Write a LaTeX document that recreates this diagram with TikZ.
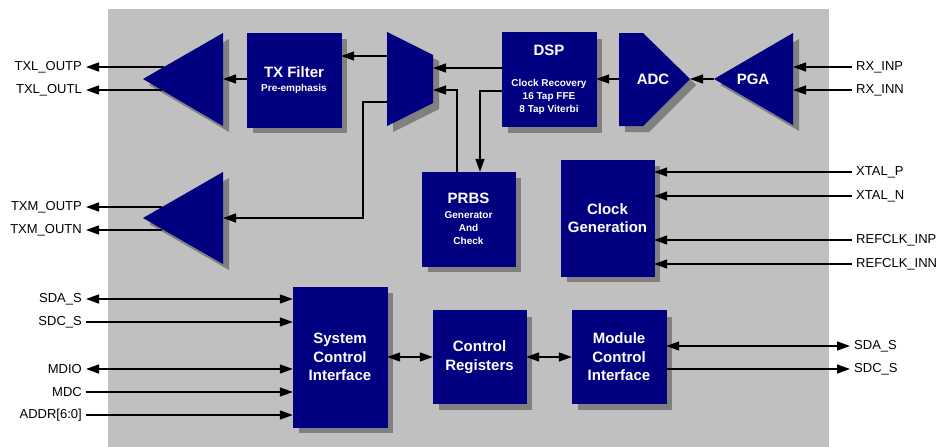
\documentclass[tikz,border=0pt]{standalone}
\usepackage{fontspec}
\setmainfont{Liberation Sans}
\usepackage{tikz}
\usetikzlibrary{arrows.meta, shadows}

\definecolor{blkblue}{HTML}{000080}
\definecolor{shadegray}{HTML}{808080}
\definecolor{diegray}{HTML}{C0C0C0}

\newcommand{\bigtxt}{\fontsize{15}{18.5}\selectfont\bfseries}
\newcommand{\smalltxt}{\fontsize{10}{12.5}\selectfont\bfseries}

\begin{document}
\begin{tikzpicture}[x=1pt, y=-1pt,
    blk/.style={fill=blkblue, draw=blkblue, text=white, align=center, inner sep=0pt,
      font=\bigtxt,
      drop shadow={shadow xshift=6pt, shadow yshift=-6pt, fill=shadegray, opacity=1}},
    shp/.style={fill=blkblue,
      drop shadow={shadow xshift=6pt, shadow yshift=-6pt, fill=shadegray, opacity=1}},
    wire/.style={line width=1.4pt},
    arr/.style={wire, -{Triangle[length=13pt, width=9pt]}},
    biarr/.style={wire, {Triangle[length=13pt, width=9pt]}-{Triangle[length=13pt, width=9pt]}},
    pin/.style={font=\fontsize{13}{15}\selectfont, inner sep=4pt}]
    \useasboundingbox (0,0) rectangle (937,447);

    % Chip area
    \fill[diegray] (108,9) rectangle (829,447);

    % Rectangular blocks
    \node[blk, minimum width=94pt, minimum height=94pt] (txf) at (294,80)
        {TX Filter\\[-4pt]\smalltxt Pre-emphasis};
    \node[blk, minimum width=94pt, minimum height=94pt] (dsp) at (549,79.5)
        {DSP\\[12.5pt]\smalltxt Clock Recovery\\[-5.5pt]\smalltxt 16 Tap FFE\\[-5.5pt]\smalltxt 8 Tap Viterbi};
    \node[blk, minimum width=93pt, minimum height=94pt] (prbs) at (468.5,219)
        {PRBS\\[-4pt]\smalltxt Generator\\[-5.5pt]\smalltxt And\\[-5.5pt]\smalltxt Check};
    \node[blk, minimum width=93pt, minimum height=116pt] (clk) at (607.5,218)
        {Clock\\Generation};
    \node[blk, minimum width=94pt, minimum height=140pt] (sci) at (340,357)
        {System\\Control\\Interface};
    \node[blk, minimum width=93pt, minimum height=93pt] (creg) at (479.5,357)
        {Control\\Registers};
    \node[blk, minimum width=94pt, minimum height=93pt] (mci) at (619,357)
        {Module\\Control\\Interface};

    % Line drivers, mux, ADC and PGA
    \fill[shp] (143,79) -- (223,33) -- (223,126) -- cycle;
    \coordinate (txl-in) at (223,79);
    \coordinate (txl-p) at (164,67);
    \coordinate (txl-n) at (162,90);

    \fill[shp] (143,218) -- (223,172) -- (223,264) -- cycle;
    \coordinate (txm-in) at (223,218);
    \coordinate (txm-p) at (162,207);
    \coordinate (txm-n) at (162,230);

    \fill[shp] (387,32) -- (433,55) -- (433,103) -- (387,126) -- cycle;
    \coordinate (mux-o1) at (387,56);
    \coordinate (mux-o2) at (387,102);
    \coordinate (mux-i1) at (433,68);
    \coordinate (mux-i2) at (433,90);

    \fill[shp] (619,33) -- (643,33) -- (690,79) -- (643,126) -- (619,126) -- cycle;
    \node[text=white, font=\bigtxt] (adc) at (653,79) {ADC};
    \coordinate (adc-in) at (690,79);
    \coordinate (adc-out) at (619,79);

    \fill[shp] (714,79) -- (793,33) -- (793,125) -- cycle;
    \node[text=white, font=\bigtxt] (pga) at (753,79) {PGA};
    \coordinate (pga-out) at (714,79);
    \coordinate (pga-p) at (793,67);
    \coordinate (pga-n) at (793,90);

    % Pins on the left
    \node[pin, anchor=east] (txlp) at (86,67) {TXL\_OUTP};
    \node[pin, anchor=east] (txln) at (86,90) {TXL\_OUTL};
    \node[pin, anchor=east] (txmp) at (86,207) {TXM\_OUTP};
    \node[pin, anchor=east] (txmn) at (86,230) {TXM\_OUTN};
    \node[pin, anchor=east] (sdas) at (86,299) {SDA\_S};
    \node[pin, anchor=east] (sdcs) at (86,322) {SDC\_S};
    \node[pin, anchor=east] (mdio) at (86,369) {MDIO};
    \node[pin, anchor=east] (mdc) at (86,392) {MDC};
    \node[pin, anchor=east] (addr) at (86,415) {ADDR[6:0]};

    % Pins on the right
    \node[pin, anchor=west] (rxp) at (852,67) {RX\_INP};
    \node[pin, anchor=west] (rxn) at (852,90) {RX\_INN};
    \node[pin, anchor=west] (xtp) at (852,172) {XTAL\_P};
    \node[pin, anchor=west] (xtn) at (852,196) {XTAL\_N};
    \node[pin, anchor=west] (refp) at (852,240) {REFCLK\_INP};
    \node[pin, anchor=west] (refn) at (852,264) {REFCLK\_INN};
    \node[pin, anchor=west] (sdam) at (850,346) {SDA\_S};
    \node[pin, anchor=west] (sdcm) at (850,369) {SDC\_S};

    % Transmit path
    \draw[arr] (txf.west |- txl-in) -- (txl-in);
    \draw[arr] (txl-p) -- (txlp.east);
    \draw[arr] (txl-n) -- (txln.east);
    \draw[arr] (txm-p) -- (txmp.east);
    \draw[arr] (txm-n) -- (txmn.east);
    \draw[arr] (mux-o1) -- (txf.east |- mux-o1);
    \coordinate (txm-turn) at (363,218);
    \draw[arr] (mux-o2) -| (txm-turn) -- (txm-in);

    % DSP, PRBS and mux
    \draw[arr] (dsp.west |- mux-i1) -- (mux-i1);
    \coordinate (dsp-prbs) at (480,91);
    \draw[arr] (dsp.west |- dsp-prbs) -- (dsp-prbs) -- (dsp-prbs |- prbs.north);
    \coordinate (prbs-up) at (457,90);
    \draw[arr] (prbs.north -| prbs-up) -- (prbs-up) -- (mux-i2);

    % Receive path
    \draw[arr] (adc-out) -- (dsp.east |- adc-out);
    \draw[arr] (pga-out) -- (adc-in);
    \draw[arr] (rxp.west) -- (pga-p);
    \draw[arr] (rxn.west) -- (pga-n);

    % Clock inputs
    \draw[arr] (xtp.west) -- (clk.east |- xtp);
    \draw[arr] (xtn.west) -- (clk.east |- xtn);
    \draw[arr] (refp.west) -- (clk.east |- refp);
    \draw[arr] (refn.west) -- (clk.east |- refn);

    % Control interfaces
    \draw[biarr] (sdas.east) -- (sci.west |- sdas);
    \draw[arr] (sdcs.east) -- (sci.west |- sdcs);
    \draw[biarr] (mdio.east) -- (sci.west |- mdio);
    \draw[arr] (mdc.east) -- (sci.west |- mdc);
    \draw[arr] (addr.east) -- (sci.west |- addr);
    \draw[biarr] (sci.east) -- (creg.west);
    \draw[biarr] (creg.east) -- (mci.west);
    \draw[biarr] (mci.east |- sdam) -- (sdam.west);
    \draw[arr] (mci.east |- sdcm) -- (sdcm.west);
\end{tikzpicture}
\end{document}
